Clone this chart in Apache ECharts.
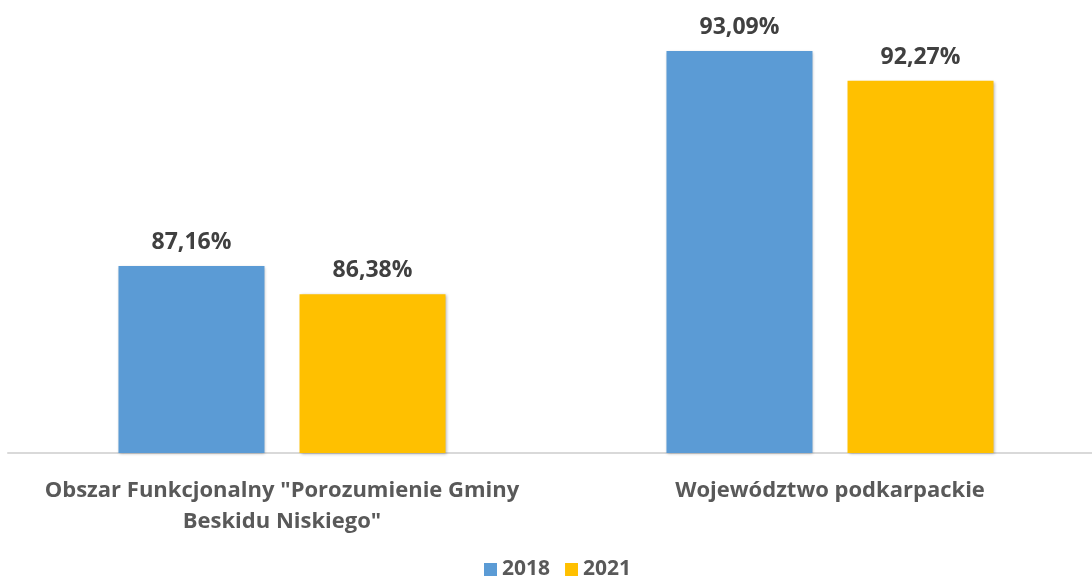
<!DOCTYPE html>
<html><head><meta charset="utf-8">
<script src="https://cdn.jsdelivr.net/npm/echarts@6/dist/echarts.min.js"></script>
<style>html,body{margin:0;padding:0;background:#fff;overflow:hidden}#c{width:1104px;height:584px}</style>
</head><body><div id="c"></div>
<script>
const categories = ['Obszar Funkcjonalny "Porozumienie Gminy\nBeskidu Niskiego"', 'Województwo podkarpackie'];
const values2018 = [87.16, 93.09];
const values2021 = [86.38, 92.27];
const seriesNames = ['2018', '2021'];
const colors = ['#5b9bd5', '#ffc000'];
const font = '"Open Sans", "Noto Sans", sans-serif';
const chart = echarts.init(document.getElementById('c'));
const mk = (name, data, color) => ({
  name, type: 'bar', data, barWidth: 146, barGap: '24%',
  itemStyle: {color, shadowBlur: 3, shadowColor: 'rgba(0,0,0,0.3)', shadowOffsetX: 1, shadowOffsetY: 1},
  label: {show: true, position: 'top', distance: 12, fontFamily: font, fontWeight: 'bold', fontSize: 23, color: '#404040',
    formatter: p => p.value.toFixed(2).replace('.', ',') + '%'}
});
chart.setOption({
  animation: false,
  color: colors,
  grid: {left: 8, right: 0, top: 18, bottom: 131, containLabel: false},
  legend: {bottom: -1, left: 479, itemWidth: 13, itemHeight: 13, itemGap: 15, icon: 'rect',
    textStyle: {fontFamily: font, fontWeight: 'bold', fontSize: 21, color: '#595959'}, data: seriesNames},
  xAxis: {type: 'category', data: categories,
    axisLine: {lineStyle: {color: '#d9d9d9', width: 2}}, axisTick: {show: false},
    axisLabel: {margin: 22, fontFamily: font, fontWeight: 'bold', fontSize: 22, color: '#595959', lineHeight: 31, interval: 0}},
  yAxis: {type: 'value', min: 82, max: 94, show: false, splitLine: {show: false}},
  series: [mk(seriesNames[0], values2018, colors[0]), mk(seriesNames[1], values2021, colors[1])]
});
</script></body></html>
